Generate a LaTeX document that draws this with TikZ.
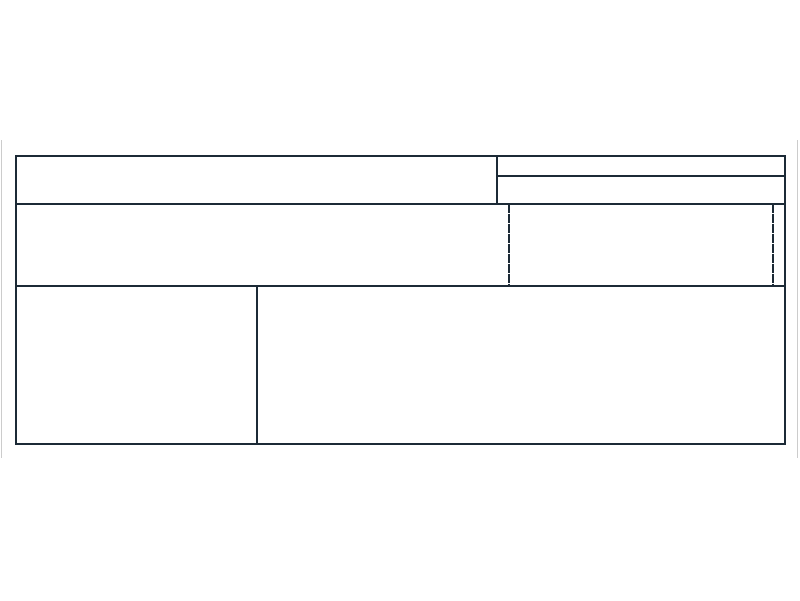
\documentclass[tikz,border=0pt]{standalone}
\begin{document}
\begin{tikzpicture}[x=1pt,y=-1pt,
  frame/.style={draw=lineblue,line width=2pt},
  divider/.style={draw=lineblue,line width=2pt},
  hatchline/.style={draw=lineblue,line width=2pt,dash pattern=on 9pt off 1pt},
  edgeline/.style={draw=black!20,line width=1pt}]
\definecolor{lineblue}{HTML}{1C2A36}
\useasboundingbox (0,0) rectangle (800,600);
\fill[white] (0,0) rectangle (800,600);
% faint side lines
\coordinate (lt) at (1.5,140); \coordinate (lb) at (1.5,458);
\coordinate (rt) at (797.5,140); \coordinate (rb) at (797.5,458);
\draw[edgeline] (lt) -- (lb);
\draw[edgeline] (rt) -- (rb);
% outer frame
\coordinate (tl) at (15.5,155.5);
\coordinate (br) at (784.5,443.5);
\draw[frame] (tl) rectangle (br);
% horizontal dividers
\coordinate (h1l) at (15.5,203.5); \coordinate (h1r) at (784.5,203.5);
\coordinate (h2l) at (15.5,285.5); \coordinate (h2r) at (784.5,285.5);
\coordinate (h3l) at (496.5,175.5); \coordinate (h3r) at (784.5,175.5);
\draw[divider] (h1l) -- (h1r);
\draw[divider] (h2l) -- (h2r);
\draw[divider] (h3l) -- (h3r);
% vertical dividers
\coordinate (v1t) at (496.5,155.5); \coordinate (v1b) at (496.5,203.5);
\coordinate (v2t) at (256.5,285.5); \coordinate (v2b) at (256.5,443.5);
\draw[divider] (v1t) -- (v1b);
\draw[divider] (v2t) -- (v2b);
% dashed verticals
\coordinate (d1t) at (508.5,203.5); \coordinate (d1b) at (508.5,285.5);
\coordinate (d2t) at (772.5,203.5); \coordinate (d2b) at (772.5,285.5);
\draw[hatchline] (d1t) -- (d1b);
\draw[hatchline] (d2t) -- (d2b);
\end{tikzpicture}
\end{document}
